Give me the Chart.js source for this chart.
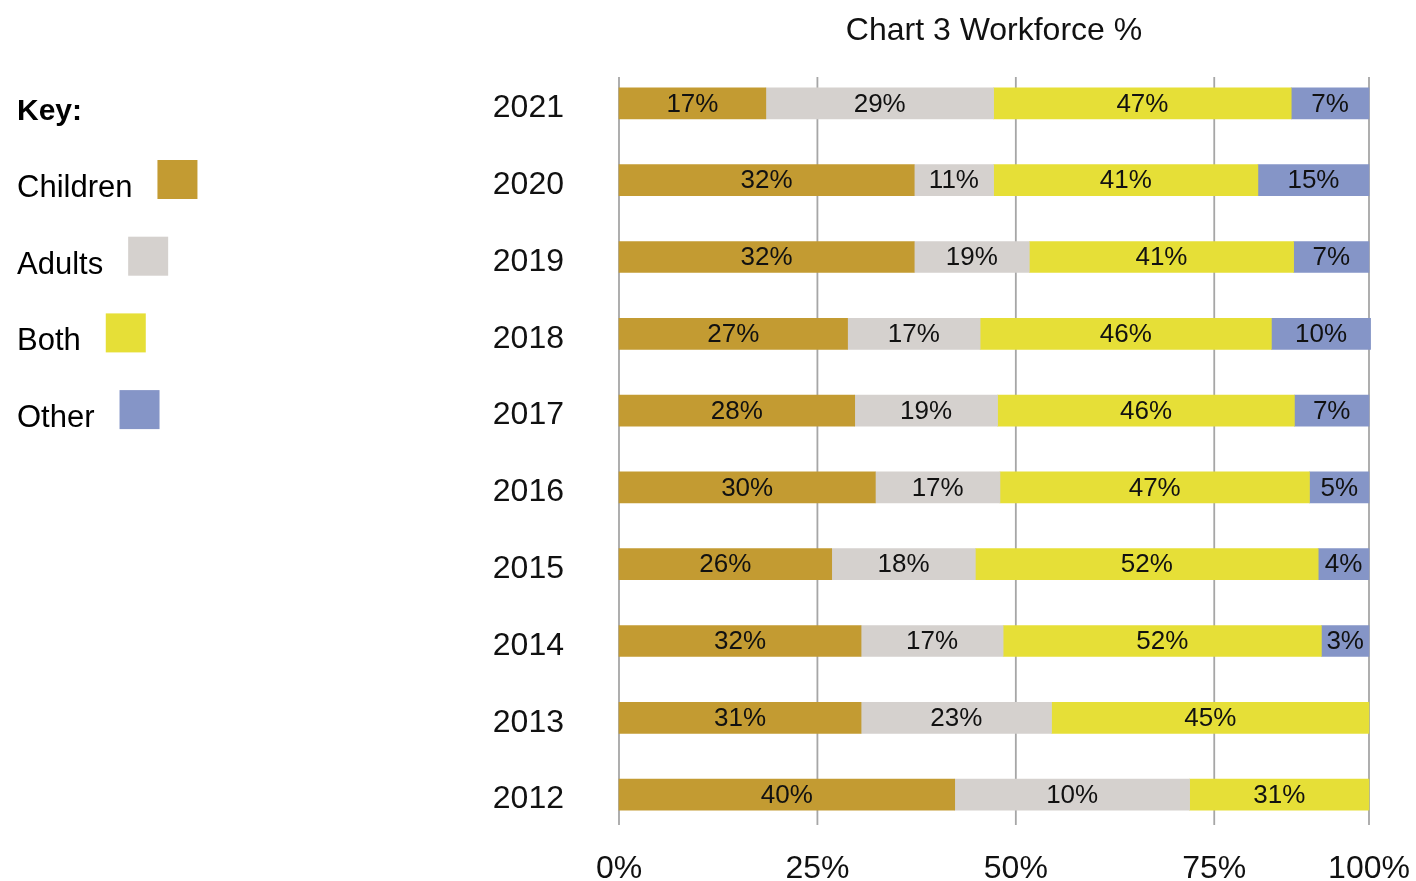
<!DOCTYPE html>
<html>
<head>
<meta charset="utf-8">
<script src="https://cdn.jsdelivr.net/npm/chart.js@4.4.1/dist/chart.umd.min.js"></script>
<style>
    html, body { margin: 0; padding: 0; background: #fff; }
    #wrap { position: relative; width: 1416px; height: 881px; }
</style>
</head>
<body>
<div id="wrap"><canvas id="chart3"></canvas></div>
<script>
const years = ["2021", "2020", "2019", "2018", "2017", "2016", "2015", "2014", "2013", "2012"]

// the axis in the original is uneven: 0/25/50/75 are evenly spaced,
// the "100%" line sits where the bars end
const xTicks = [0, 25, 50, 75, 94.5]
const xTickLabels = ["0%", "25%", "50%", "75%", "100%"]

// bar lengths as drawn, in axis units
const childrenShare = [18.5, 37.2, 37.2, 28.8, 29.7, 32.3, 26.8, 30.5, 30.5, 42.3]
const adultsShare = [28.7, 10.0, 14.5, 16.7, 18.0, 15.7, 18.1, 17.9, 24.0, 29.6]
const bothShare = [37.5, 33.3, 33.3, 36.7, 37.4, 39.0, 43.2, 40.1, 40.0, 22.6]
const otherShare = [9.8, 14.0, 9.5, 12.5, 9.4, 7.5, 6.4, 6.0, 0, 0]

// percentages printed on the segments
const childrenPct = [17, 32, 32, 27, 28, 30, 26, 32, 31, 40]
const adultsPct = [29, 11, 19, 17, 19, 17, 18, 17, 23, 10]
const bothPct = [47, 41, 41, 46, 46, 47, 52, 52, 45, 31]
const otherPct = [7, 15, 7, 10, 7, 5, 4, 3, null, null]

const FONT = "'Liberation Sans', Arial, Helvetica, sans-serif"

// vertical grid lines, a bit shorter than the plot area
const gridLines = {
    id: 'gridLines',
    beforeDatasetsDraw(chart) {
        const ctx = chart.ctx
        const x = chart.scales.x
        const area = chart.chartArea
        ctx.save()
        ctx.strokeStyle = '#a6a6a6'
        ctx.lineWidth = 1.8
        xTicks.forEach(v => {
            const px = x.getPixelForValue(v)
            ctx.beginPath()
            ctx.moveTo(px, area.top + 12)
            ctx.lineTo(px, area.bottom - 8)
            ctx.stroke()
        })
        ctx.restore()
    }
}

// % text in the middle of each segment
const segmentLabels = {
    id: 'segmentLabels',
    afterDatasetsDraw(chart) {
        const ctx = chart.ctx
        ctx.save()
        ctx.font = '26px ' + FONT
        ctx.fillStyle = '#111'
        ctx.textAlign = 'center'
        ctx.textBaseline = 'middle'
        chart.data.datasets.forEach((ds, i) => {
            chart.getDatasetMeta(i).data.forEach((bar, j) => {
                const v = ds.pctLabels[j]
                if (v == null) return
                const c = bar.getCenterPoint()
                ctx.fillText(v + '%', c.x, c.y + 1)
            })
        })
        ctx.restore()
    }
}

// "Key:" block on the left
const keyLegend = {
    id: 'keyLegend',
    afterDraw(chart) {
        const ctx = chart.ctx
        ctx.save()
        ctx.textAlign = 'left'
        ctx.textBaseline = 'alphabetic'
        ctx.fillStyle = '#000'
        ctx.font = 'bold 30px ' + FONT
        ctx.fillText('Key:', 17, 120)
        ctx.font = '31px ' + FONT
        chart.data.datasets.forEach((ds, i) => {
            const base = 197 + i * 76.7
            ctx.fillStyle = '#000'
            ctx.fillText(ds.label, 17, base)
            const w = ctx.measureText(ds.label).width
            ctx.fillStyle = ds.backgroundColor
            ctx.fillRect(17 + w + 25, base - 37, 40, 39)
        })
        ctx.restore()
    }
}

new Chart(document.getElementById('chart3').getContext('2d'), {
    type: 'bar',
    data: {
        labels: years,
        datasets: [
            { label: 'Children', data: childrenShare, pctLabels: childrenPct, backgroundColor: '#C39B32' },
            { label: 'Adults', data: adultsShare, pctLabels: adultsPct, backgroundColor: '#D5D1CE' },
            { label: 'Both', data: bothShare, pctLabels: bothPct, backgroundColor: '#E6DF37' },
            { label: 'Other', data: otherShare, pctLabels: otherPct, backgroundColor: '#8595C7' },
        ],
    },
    options: {
        indexAxis: 'y',
        responsive: true,
        maintainAspectRatio: false,
        animation: false,
        barThickness: 31,
        clip: false,
        layout: {
            padding: { top: 0, right: 47, bottom: 0, left: 0 },
        },
        plugins: {
            legend: { display: false },
            tooltip: { enabled: false },
            title: {
                display: true,
                text: 'Chart 3 Workforce %',
                fullSize: false,
                color: '#111',
                font: { family: FONT, size: 32, weight: 'normal' },
                padding: { top: 12, bottom: 14.6 },
            },
        },
        scales: {
            x: {
                stacked: true,
                min: 0,
                max: xTicks[xTicks.length - 1],
                afterFit(scale) {
                    scale.height = 48
                    scale.paddingLeft = 0
                    scale.paddingRight = 0
                },
                afterBuildTicks(scale) { scale.ticks = xTicks.map(v => ({ value: v })) },
                grid: { display: false, drawTicks: false },
                border: { display: false },
                ticks: {
                    color: '#111',
                    padding: 17,
                    maxRotation: 0,
                    font: { family: FONT, size: 32 },
                    callback: (v, i) => xTickLabels[i],
                },
            },
            y: {
                stacked: true,
                afterFit(scale) {
                    scale.width = 619
                    scale.paddingTop = 0
                    scale.paddingBottom = 0
                },
                grid: { display: false, drawTicks: false },
                border: { display: false },
                ticks: {
                    color: '#111',
                    padding: 55,
                    labelOffset: 5,
                    font: { family: FONT, size: 32 },
                },
            },
        },
    },
    plugins: [gridLines, segmentLabels, keyLegend],
});
</script>
</body>
</html>
